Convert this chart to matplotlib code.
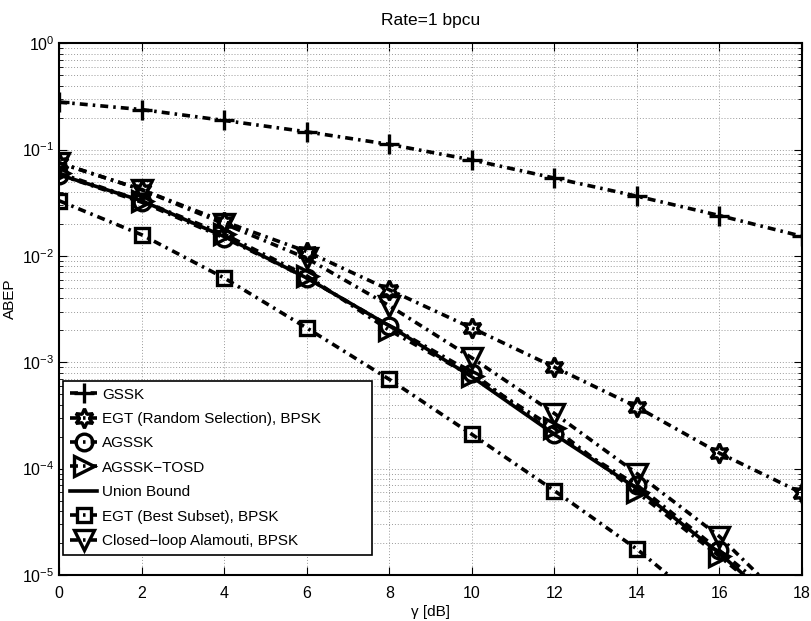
import numpy as np
import matplotlib
matplotlib.use("Agg")
import matplotlib.pyplot as plt

plt.rcParams['font.family'] = ['Liberation Sans', 'DejaVu Sans']
plt.rcParams['mathtext.fontset'] = 'custom'
plt.rcParams['mathtext.rm'] = 'Liberation Sans'

# SNR axis
snr = [0, 2, 4, 6, 8, 10, 12, 14, 16, 18]

# ABEP values
gssk = [0.280, 0.238, 0.188, 0.147, 0.112, 0.080, 0.0540, 0.0365, 0.0240, 0.0153]
egt_random = [0.075, 0.042, 0.021, 0.011, 0.0048, 0.0021, 9.0e-4, 3.8e-4, 1.4e-4, 5.9e-5]
agssk = [0.058, 0.032, 0.0148, 0.0062, 0.0022, 8.0e-4, 2.1e-4, 7.0e-5, 1.7e-5, 4.0e-6]
agssk_tosd = [0.060, 0.033, 0.016, 0.0065, 0.0020, 7.4e-4, 2.4e-4, 6.0e-5, 1.5e-5, 3.5e-6]
union_bound = [0.058, 0.033, 0.0152, 0.0062, 0.0022, 7.3e-4, 2.1e-4, 6.5e-5, 1.6e-5, 3.3e-6]
egt_best = [0.033, 0.0158, 0.0062, 0.0021, 6.9e-4, 2.1e-4, 6.2e-5, 1.75e-5, 4.0e-6, 8.0e-7]
alamouti = [0.075, 0.042, 0.020, 0.0095, 0.0034, 0.0011, 3.3e-4, 9.0e-5, 2.3e-5, 4.0e-6]

dashdot = (0, (2.2, 1.4, 0.7, 1.4))

fig = plt.figure(figsize=(8.11, 6.21), dpi=100)
ax = fig.add_axes([0.0731, 0.0741, 0.9158, 0.8562])

common = dict(color='black', linewidth=2.6, markersize=12,
              markerfacecolor='none', markeredgewidth=2.4)

ax.semilogy(snr, gssk, linestyle=dashdot, marker='+', label='GSSK',
            **{**common, 'markersize': 15})
ax.semilogy(snr, egt_random, linestyle=dashdot, marker=(6, 1, 0),
            label='EGT (Random Selection), BPSK', **{**common, 'markersize': 14})
ax.semilogy(snr, agssk, linestyle=dashdot, marker='o', label='AGSSK', **common)
ax.semilogy(snr, agssk_tosd, linestyle=dashdot, marker='>',
            label='AGSSK\u2212TOSD', **{**common, 'markersize': 14})
ax.semilogy(snr, union_bound, linestyle='-', color='black', linewidth=2.6,
            label='Union Bound')
ax.semilogy(snr, egt_best, linestyle=dashdot, marker='s',
            label='EGT (Best Subset), BPSK', **{**common, 'markersize': 10})
ax.semilogy(snr, alamouti, linestyle=dashdot, marker='v',
            label='Closed\u2212loop Alamouti, BPSK', **{**common, 'markersize': 15})

ax.set_xlim(0, 18)
ax.set_ylim(1e-5, 1)
ax.set_xticks(snr)

ax.grid(True, which='major', linestyle=(0, (1, 2)), color='#9a9a9a', linewidth=0.7)
ax.grid(True, which='minor', axis='y', linestyle=(0, (1, 2)), color='#9a9a9a', linewidth=0.7)
ax.tick_params(which='both', direction='in', top=True, right=True, labelsize=11.5)
ax.tick_params(which='major', length=6)
ax.tick_params(which='minor', length=3)
ax.tick_params(axis='x', pad=8)
for s in ax.spines.values():
    s.set_linewidth(1.5)

ax.set_xlabel('\u03b3 [dB]', fontsize=11, labelpad=3)
ax.set_ylabel('ABEP', fontsize=11)
ax.yaxis.set_label_coords(-0.057, 0.52)
ax.set_title('Rate=1 bpcu', fontsize=12.5, pad=13)

leg = ax.legend(loc='lower left', bbox_to_anchor=(0.005, 0.038, 0.4165, 0.334),
                mode='expand', borderaxespad=0,
                fancybox=False, edgecolor='black', framealpha=1, fontsize=11,
                handlelength=1.8, handletextpad=0.3, labelspacing=0.68,
                borderpad=0.45)
leg.get_frame().set_linewidth(1.2)

fig.savefig('out.png', dpi=100)
